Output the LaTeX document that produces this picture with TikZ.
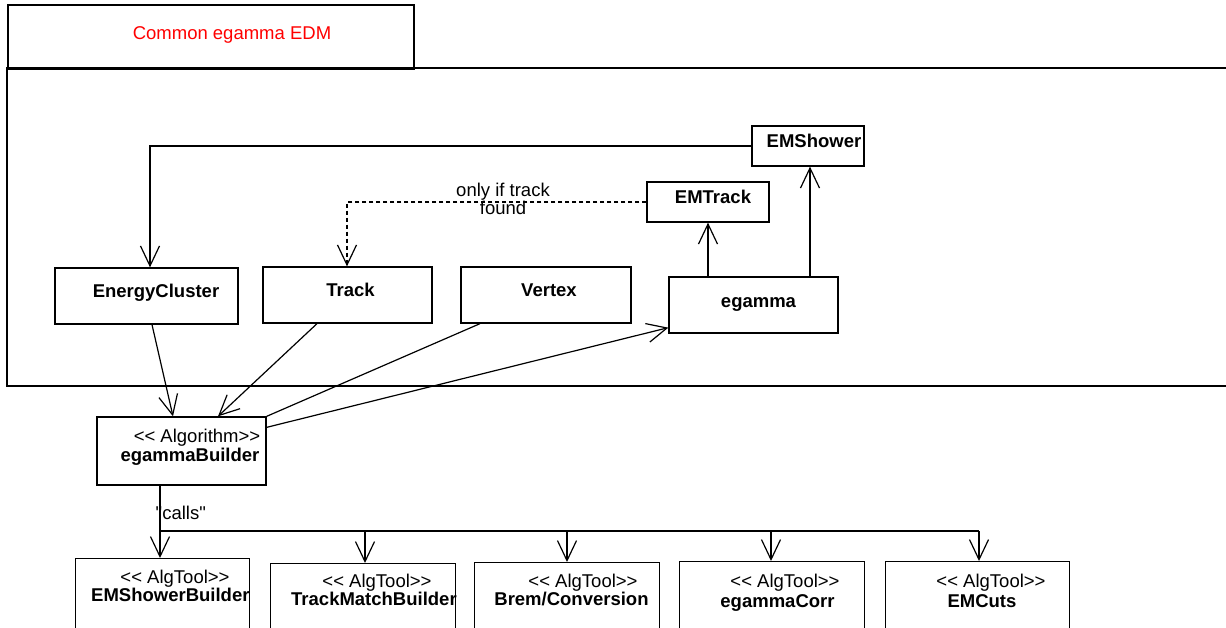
\documentclass[tikz,border=0pt]{standalone}
\usepackage{fontspec}
\setmainfont{Liberation Sans}[Ligatures=TeXOff]
\usetikzlibrary{arrows.meta,calc}
\begin{document}
\begin{tikzpicture}[x=1pt,y=-1pt,
  box/.style={draw, line width=1.3pt, inner sep=0pt, rectangle},
  frame/.style={draw, line width=1.6pt},
  lbl/.style={font=\fontsize{18.5}{18.3}\selectfont\bfseries, inner sep=0pt, anchor=base},
  ster/.style={font=\fontsize{18.5}{18.3}\selectfont, inner sep=0pt, anchor=base},
  conn/.style={line width=1.2pt},
  arr/.style={conn, -{Straight Barb[length=20pt,width=19pt,line width=1.2pt]}}]
\useasboundingbox (0,0) rectangle (1226,628);
\clip (0,0) rectangle (1226,628);

% package frame
\node[frame, inner sep=0pt, anchor=north west, minimum width=406pt, minimum height=64pt] (pkgtab) at (7,4) {};
\node[ster, text=red] (pkgname) at (232,39.3) {Common egamma EDM};
\draw[frame] (1232,68) -- (7,68) -- (7,386) -- (1232,386);

% classes of the EDM
\node[box, minimum width=112pt, minimum height=40pt] (ems) at (808,146) {};
\node[lbl] at (814,148) {EMShower};
\node[box, minimum width=122pt, minimum height=40pt] (emt) at (708,202) {};
\node[lbl] at (713,204) {EMTrack};
\node[box, minimum width=183pt, minimum height=56pt] (ec) at (146.5,296) {};
\node[lbl] at (156,298) {EnergyCluster};
\node[box, minimum width=169pt, minimum height=56pt] (trk) at (347.5,295) {};
\node[lbl] at (350.5,297) {Track};
\node[box, minimum width=170pt, minimum height=56pt] (vtx) at (546,295) {};
\node[lbl] at (549,297) {Vertex};
\node[box, minimum width=169pt, minimum height=56pt] (eg) at (753.5,305) {};
\node[lbl] at (758.5,308) {egamma};

% algorithm
\node[box, minimum width=169pt, minimum height=68pt] (eb) at (181.5,451) {};
\node[ster] at (197,442.7) {<< Algorithm>>};
\node[lbl] at (190,461.7) {egammaBuilder};

% tools
\node[box, anchor=north west, minimum width=174pt, minimum height=90pt] (esb) at (75,558) {};
\node[box, anchor=north west, minimum width=185pt, minimum height=90pt] (tmb) at (270,563) {};
\node[box, anchor=north west, minimum width=185pt, minimum height=90pt] (brem) at (474,562) {};
\node[box, anchor=north west, minimum width=185pt, minimum height=90pt] (corr) at (679,561) {};
\node[box, anchor=north west, minimum width=184pt, minimum height=90pt] (cuts) at (885,561) {};

\begin{scope}
  \clip (esb.north west) rectangle (esb.south east);
  \node[ster] at (175,583.5) {<< AlgTool>>};
  \node[lbl, anchor=base west] at (91,601) {EMShowerBuilder};
\end{scope}
\begin{scope}
  \clip (tmb.north west) rectangle (tmb.south east);
  \node[ster] at (377,587) {<< AlgTool>>};
  \node[lbl, anchor=base west] at (291,605.5) {TrackMatchBuilder};
\end{scope}
\node[ster] at (583,587) {<< AlgTool>>};
\node[lbl] at (571.5,605.5) {Brem/Conversion};
\node[ster] at (785,587) {<< AlgTool>>};
\node[lbl] at (777.5,607) {egammaCorr};
\node[ster] at (991,587) {<< AlgTool>>};
\node[lbl] at (982,607) {EMCuts};

% associations inside the EDM
\draw[arr] (ems.west) -| (150,0 |- ec.north);
\draw[arr, dash pattern=on 4pt off 3pt] (emt.west) -| (347,0 |- trk.north);
\node[ster, anchor=north, align=center] (cond) at (503,182.6) {only if track\\found};
\draw[arr] (708,0 |- eg.north) -- (708,0 |- emt.south);
\draw[arr] (810,0 |- eg.north) -- (810,0 |- ems.south);

% builder uses the EDM
\draw[arr] (152,0 |- ec.south) -- (173,0 |- eb.north);
\draw[arr] (317,0 |- trk.south) -- (218,0 |- eb.north);
\draw[conn] (480,0 |- vtx.south) -- (eb.north east);
\draw[arr] ($(eb.north east)+(0,11)$) -- ($(eg.south west)+(0,-6)$);

% builder calls the tools
\coordinate (busL) at (160,531);
\coordinate (busR) at (979,531);
\draw[arr] (busL |- eb.south) -- (busL |- esb.north);
\node[ster, anchor=base west] (calls) at (155.5,519) {"calls"};
\draw[conn] (busL) -- (busR);
\draw[arr] (365,0 |- busL) -- (365,0 |- tmb.north);
\draw[arr] (567,0 |- busL) -- (567,0 |- brem.north);
\draw[arr] (771,0 |- busL) -- (771,0 |- corr.north);
\draw[arr] (busR) -- (busR |- cuts.north);
\end{tikzpicture}
\end{document}
